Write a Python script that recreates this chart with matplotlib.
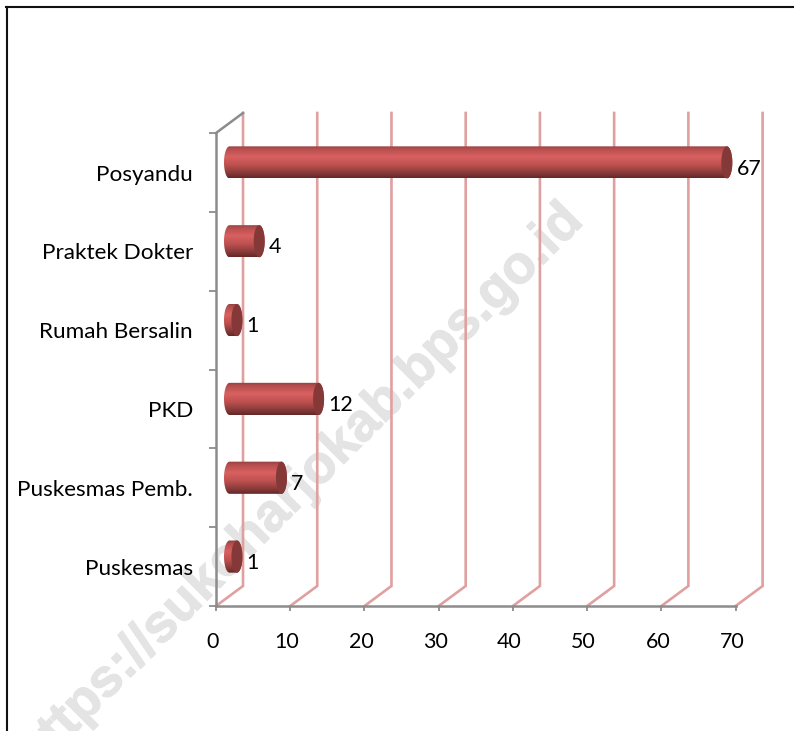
import numpy as np
import matplotlib
matplotlib.use('Agg')
import matplotlib.pyplot as plt
import matplotlib.patheffects as pe
from matplotlib.colors import LinearSegmentedColormap
from matplotlib.lines import Line2D
from matplotlib.patches import Polygon
from matplotlib.transforms import ScaledTranslation

categories = ['Puskesmas', 'Puskesmas Pemb.', 'PKD', 'Rumah Bersalin', 'Praktek Dokter', 'Posyandu']
values = [1, 7, 12, 1, 4, 67]
x_ticks = [0, 10, 20, 30, 40, 50, 60, 70]

W, H = 794, 731
FONT = ['Lato', 'DejaVu Sans']
FS_CAT = 16.2
FS_NUM = 15.4

# 3d look: back wall is shifted from the front plane (in data units)
DX = 27 / 74.2 * 10
DY = 20 / 78.8
RX = 5.5 / 7.42      # end cap half width
BAR_H = 0.204

fig = plt.figure(figsize=(W / 100, H / 100), dpi=100)
ax = fig.add_axes([216 / W, 1 - 606 / H, (735.6 - 216) / W, (606 - 133) / H])
ax.set_zorder(1)
ax.set_xlim(0, 70)
ax.set_ylim(-0.5, 5.5)
ax.patch.set_visible(False)

# watermark
wm = fig.text(300 / W, 1 - 488 / H, 'https://sukoharjokab.bps.go.id', rotation=45, color='#e4e4e4',
              fontsize=38.5, fontweight='bold', family='Liberation Sans', ha='center', va='center',
              rotation_mode='anchor', zorder=0)
wm.set_path_effects([pe.withStroke(linewidth=0.8, foreground='#e4e4e4')])

# walls
for t in x_ticks:
    ax.plot([t, t + DX, t + DX], [-0.5, -0.5 + DY, 5.5 + DY], color='#e0a0a0', lw=1.9,
            clip_on=False, zorder=1, solid_joinstyle='miter')
ax.plot([0, DX], [5.5, 5.5 + DY], color='#8c8c8c', lw=1.8, clip_on=False, zorder=2)

cmap = LinearSegmentedColormap.from_list('bar', [
    (0.0, '#94403f'), (0.12, '#b84f4f'), (0.35, '#da6060'), (0.6, '#bd5150'),
    (0.85, '#8a3a3a'), (1.0, '#642828')])
grad = np.linspace(0, 1, 64).reshape(-1, 1)
th = np.linspace(0, np.pi, 40)

for i, v in enumerate(values):
    x0 = DX / 2
    yc = i + DY / 2
    x1 = x0 + v
    # outline of the cylinder: straight body with round ends
    right = np.column_stack([x1 + RX * np.sin(th), yc + BAR_H * np.cos(th)])
    left = np.column_stack([x0 - RX * np.sin(th), yc - BAR_H * np.cos(th)])
    outline = Polygon(np.vstack([right, left]), closed=True, transform=ax.transData,
                      fc='none', ec='none')
    ax.add_patch(outline)
    im = ax.imshow(grad, cmap=cmap, aspect='auto', zorder=3, interpolation='bilinear',
                   extent=[x0 - RX, x1 + RX, yc - BAR_H, yc + BAR_H], origin='upper')
    im.set_clip_path(outline)
    # end cap
    t2 = np.linspace(0, 2 * np.pi, 80)
    ax.fill(x1 + RX * np.cos(t2), yc + BAR_H * np.sin(t2), color='#843838', lw=0, zorder=4)
    ax.annotate(str(v), (x1 + RX, yc), xytext=(3, -4.5), textcoords='offset points',
                ha='left', va='center', fontsize=FS_NUM, family=FONT, color='black', zorder=5)

ax.set_xlim(0, 70)
ax.set_ylim(-0.5, 5.5)

for s in ['top', 'right']:
    ax.spines[s].set_visible(False)
for s in ['left', 'bottom']:
    ax.spines[s].set_color('#8c8c8c')
    ax.spines[s].set_linewidth(1.8)
    ax.spines[s].set_zorder(2)

ax.set_xticks(x_ticks)
ax.set_yticks(np.arange(-0.5, 6, 1))
ax.set_yticklabels([])
ax.tick_params(axis='x', length=3.5, width=1.3, color='#8c8c8c', pad=15, labelsize=FS_NUM)
ax.tick_params(axis='y', length=5, width=1.3, color='#8c8c8c')
shift = ScaledTranslation(-3.5 / 100, 0, fig.dpi_scale_trans)
for lab in ax.get_xticklabels():
    lab.set_family(FONT)
    lab.set_transform(lab.get_transform() + shift)

# category labels sit between the tick marks
for i, c in enumerate(categories):
    ax.annotate(c, (0, i), xytext=(-16.5, -1.5), textcoords='offset points', ha='right', va='center',
                fontsize=FS_CAT, family=FONT, color='black')

# black frame, left and top only
fig.add_artist(Line2D([6.5 / W, 6.5 / W], [0, 1 - 7 / H], color='#111111', lw=1.5))
fig.add_artist(Line2D([6 / W, 793 / W], [1 - 7 / H, 1 - 7 / H], color='#111111', lw=1.5))

fig.savefig('out.png', dpi=100)
plt.close(fig)
